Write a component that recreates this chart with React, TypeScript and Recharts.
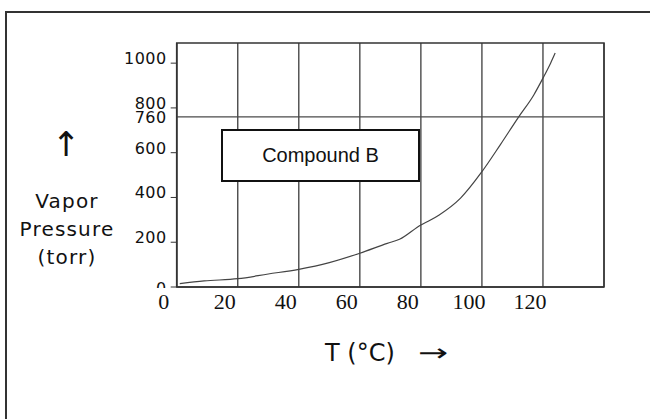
import React from 'react';
import {
  LineChart,
  Line,
  XAxis,
  YAxis,
  CartesianGrid,
  ReferenceLine,
  ReferenceArea,
} from 'recharts';

// Compound B vapor pressure curve
const temps = [1, 9, 20, 30, 40, 50, 60, 69, 73, 80, 83, 86, 93, 100, 106, 112, 117, 120, 122.5, 124];
const pressures = [15, 27, 37, 58, 79, 109, 151, 195, 213, 277, 298, 322, 397, 515, 635, 759, 858, 933, 1000, 1045];

const xTicks = [0, 20, 40, 60, 80, 100, 120, 140];
const xTickLabels = ['0', '20', '40', '60', '80', '100', '120', ''];
const yTicks = [0, 200, 400, 600, 760, 800, 1000];

const data = temps.map((t, i) => ({ t, p: pressures[i] }));

const GOTHIC = "'DejaVu Sans', 'Noto Sans', sans-serif";
const LINE = '#4a4a4a';

const XTick = (props: any) => {
  const { x, y, payload } = props;
  const label = xTickLabels[xTicks.indexOf(payload.value)];
  if (!label) return null;
  return (
    <text
      x={x - 13}
      y={y + 20}
      textAnchor="middle"
      fontFamily="'Liberation Serif', 'Times New Roman', serif"
      fontSize={22}
      fill="#111"
    >
      {label}
    </text>
  );
};

const YTick = (props: any) => {
  const { x, y, payload } = props;
  const v = payload.value;
  const textProps = {
    x: x - 10,
    textAnchor: 'end' as const,
    fontFamily: GOTHIC,
    fontSize: 16,
    letterSpacing: 0.5,
    fill: '#111',
  };
  if (v === 760) {
    return (
      <text {...textProps} y={y + 6}>
        760
      </text>
    );
  }
  if (v === 0) {
    return (
      <g>
        <defs>
          <clipPath id="zero-clip">
            <rect x={x - 40} y={y - 30} width={40} height={31} />
          </clipPath>
        </defs>
        <text {...textProps} y={y + 7} clipPath="url(#zero-clip)">
          0
        </text>
        <line x1={x - 6} x2={x} y1={y} y2={y} stroke="#333" />
      </g>
    );
  }
  return (
    <g>
      <text {...textProps} y={y + 1}>
        {v}
      </text>
      <line x1={x - 6} x2={x} y1={y} y2={y} stroke="#333" />
    </g>
  );
};

const App: React.FC = () => {
  return (
    <div style={{ position: 'absolute', left: 0, top: 0, width: 650, height: 419, background: '#fff', overflow: 'hidden' }}>
      <div
        style={{
          position: 'absolute',
          left: 5,
          top: 11,
          width: 660,
          height: 420,
          borderTop: '2px solid #333',
          borderLeft: '2px solid #333',
        }}
      />
      <LineChart
        width={650}
        height={419}
        data={data}
        margin={{ top: 43, right: 46, left: 116.7, bottom: 102 }}
      >
        <CartesianGrid horizontal={false} stroke={LINE} strokeWidth={1.4} />
        <XAxis
          dataKey="t"
          type="number"
          domain={[0, 140]}
          ticks={xTicks}
          interval={0}
          tickLine={false}
          tickSize={0}
          height={30}
          axisLine={{ stroke: '#333', strokeWidth: 1.5 }}
          tick={<XTick />}
        />
        <YAxis
          type="number"
          domain={[0, 1090]}
          ticks={yTicks}
          interval={0}
          tickLine={false}
          tickSize={0}
          tickMargin={0}
          width={60}
          axisLine={{ stroke: '#333', strokeWidth: 1.5 }}
          tick={<YTick />}
        />
        <ReferenceLine y={760} stroke={LINE} strokeWidth={1.4} />
        <ReferenceArea x1={0} x2={140} y1={0} y2={1090} fill="none" stroke="#333" strokeWidth={1.5} ifOverflow="visible" />
        <Line
          type="monotone"
          dataKey="p"
          stroke="#444"
          strokeWidth={1.2}
          dot={false}
          isAnimationActive={false}
        />
      </LineChart>

      <div
        style={{
          position: 'absolute',
          left: 221,
          top: 129,
          width: 195,
          height: 49,
          border: '2px solid #111',
          background: '#fff',
          display: 'flex',
          alignItems: 'center',
          justifyContent: 'center',
          fontFamily: "'Liberation Sans', Arial, sans-serif",
          fontSize: 20,
          color: '#111',
        }}
      >
        Compound B
      </div>

      <div
        style={{
          position: 'absolute',
          left: 46,
          top: 124,
          width: 40,
          textAlign: 'center',
          fontFamily: GOTHIC,
          fontSize: 34,
          lineHeight: '40px',
          color: '#111',
        }}
      >
        ↑
      </div>
      <div
        style={{
          position: 'absolute',
          left: 12,
          top: 187,
          width: 110,
          textAlign: 'center',
          fontFamily: GOTHIC,
          fontSize: 20,
          letterSpacing: 1.2,
          lineHeight: '28px',
          color: '#111',
        }}
      >
        Vapor
        <br />
        Pressure
        <br />
        (torr)
      </div>

      <div
        style={{
          position: 'absolute',
          left: 325,
          top: 338,
          fontFamily: GOTHIC,
          fontSize: 24,
          lineHeight: '30px',
          color: '#111',
          whiteSpace: 'nowrap',
        }}
      >
        T (°C)
        <span style={{ display: 'inline-block', marginLeft: 28, transform: 'scaleX(1.5)' }}>→</span>
      </div>
    </div>
  );
};

export default App;
